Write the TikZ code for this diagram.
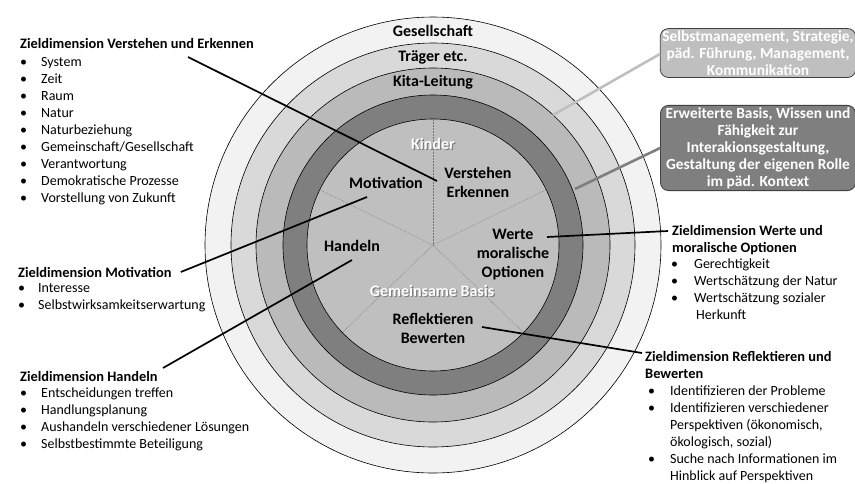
\documentclass[tikz,border=0pt]{standalone}
\usepackage{fontspec}
\setmainfont{Carlito}
\usepackage{xcolor}
\usetikzlibrary{positioning}
\definecolor{ringA}{HTML}{F2F2F2}
\definecolor{ringB}{HTML}{D9D9D9}
\definecolor{ringC}{HTML}{BABABA}
\definecolor{ringD}{HTML}{7F7F7F}
\definecolor{coreE}{HTML}{BFBFBF}
\newcommand{\bul}{\makebox[21pt][l]{\textbullet}}
\newcommand{\bulR}{\makebox[23pt][l]{\textbullet}}

\begin{document}
\begin{tikzpicture}[x=1pt,y=-1pt,font=\fontsize{14}{17}\selectfont,
    ring/.style={draw=black, line width=0.6pt},
    spoke/.style={densely dotted, black!55, line width=0.5pt},
    ringlbl/.style={font=\fontsize{16}{19}\selectfont\bfseries, align=center, inner sep=0pt},
    inlbl/.style={font=\fontsize{16}{19}\selectfont\bfseries, align=center, inner sep=0pt, text=white},
    shd/.style={font=\fontsize{16}{19}\selectfont\bfseries, align=center, inner sep=0pt, text=black!70, opacity=0.55},
    ttl/.style={font=\fontsize{14.4}{17}\selectfont\bfseries, align=left, inner sep=0pt},
    lst/.style={align=left, inner sep=0pt},
    lead/.style={line width=1.7pt, black},
    box/.style={draw=black!75, line width=0.8pt, rounded corners=8pt, align=center, text=white,
                font=\fontsize{15.4}{17}\selectfont\bfseries, minimum width=195pt, inner sep=2pt}]
  \useasboundingbox (0,0) rectangle (855,483);
  % ---- rings ----
  \coordinate (ctr) at (433,245);
  \draw[ring, fill=ringA] (ctr) circle[radius=228pt];
  \draw[ring, fill=ringB] (ctr) circle[radius=202pt];
  \draw[ring, fill=ringC] (ctr) circle[radius=177pt];
  \draw[ring, fill=ringD] (ctr) circle[radius=150pt];
  \draw[ring, fill=coreE] (ctr) circle[radius=126pt];
  \draw[spoke] (ctr) -- ++(90:126pt);
  \draw[spoke] (ctr) -- ++(26:126pt);
  \draw[spoke] (ctr) -- ++(154:126pt);
  \draw[spoke] (ctr) -- ++(224:126pt);
  \draw[spoke] (ctr) -- ++(316:126pt);
  \node[ringlbl] (gesell) at (433,31) {Gesellschaft};
  \node[ringlbl] (traeger) at (433,57) {Träger etc.};
  \node[ringlbl] (kita) at (433,82) {Kita-Leitung};
  % ---- core ----
  \node[shd] (kinderS) at (434.2,145.2) {Kinder};
  \node[inlbl] (kinder) at (433,144) {Kinder};
  \node[shd] (basisS) at (433.2,292.2) {Gemeinsame Basis};
  \node[inlbl] (basis) at (432,291) {Gemeinsame Basis};
  \node[ringlbl] (cVE) at (478,182) {Verstehen\\Erkennen};
  \node[ringlbl] (cMo) at (386,183) {Motivation};
  \node[ringlbl] (cHa) at (352,246) {Handeln};
  \node[ringlbl] (cWe) at (513,255) {Werte\\moralische\\Optionen};
  \node[ringlbl] (cRe) at (433,328) {Reflektieren\\Bewerten};
  % ---- boxes ----
  \node[box, fill=coreE] (bLead) at (758,53)
    {Selbstmanagement, Strategie,\\ päd. Führung, Management,\\ Kommunikation};
  \node[box, fill=ringD] (bBase) at (758,148)
    {Erweiterte Basis, Wissen und\\ Fähigkeit zur\\ Interakionsgestaltung,\\ Gestaltung der eigenen Rolle\\ im päd. Kontext};
  \coordinate (rKita) at (553,115);
  \coordinate (rDark) at (575,189);
  \draw[line width=2.6pt, coreE] (rKita) -- ([yshift=-1pt]bLead.west);
  \draw[line width=2.6pt, ringD] (rDark) -- (bBase.west);
  % ---- goal dimensions ----
  \node[ttl, anchor=base west] (tVE) at (20,48) {Zieldimension Verstehen und Erkennen};
  \node[lst, anchor=north west] (lVE) at (20,57)
    {\bul System\\ \bul Zeit\\ \bul Raum\\ \bul Natur\\ \bul Naturbeziehung\\
     \bul Gemeinschaft/Gesellschaft\\ \bul Verantwortung\\ \bul Demokratische Prozesse\\
     \bul Vorstellung von Zukunft};
  \node[ttl, anchor=base west] (tMo) at (18,277) {Zieldimension Motivation};
  \node[lst, anchor=north west] (lMo) at (18,283)
    {\makebox[20pt][l]{\textbullet}Interesse\\ \makebox[20pt][l]{\textbullet}Selbstwirksamkeitserwartung};
  \node[ttl, anchor=base west] (tHa) at (20,381) {Zieldimension Handeln};
  \node[lst, anchor=north west] (lHa) at (20,388)
    {\bul Entscheidungen treffen\\ \bul Handlungsplanung\\ \bul Aushandeln verschiedener Lösungen\\
     \bul Selbstbestimmte Beteiligung};
  \node[ttl, anchor=north west] (tWe) at (672,225) {Zieldimension Werte und\\ moralische Optionen};
  \node[lst, anchor=north west] (lWe) at (671,259)
    {\bulR Gerechtigkeit\\ \bulR Wertschätzung der Natur\\ \bulR Wertschätzung sozialer\\ \hspace*{25pt}Herkunft};
  \node[ttl, anchor=north west] (tRe) at (645,351) {Zieldimension Reflektieren und\\ Bewerten};
  \node[lst, anchor=north west] (lRe) at (648,386)
    {\makebox[22pt][l]{\textbullet}Identifizieren der Probleme\\
     \makebox[22pt][l]{\textbullet}Identifizieren verschiedener\\
     \hspace*{22pt}Perspektiven (ökonomisch,\\ \hspace*{22pt}ökologisch, sozial)\\
     \makebox[22pt][l]{\textbullet}Suche nach Informationen im\\ \hspace*{22pt}Hinblick auf Perspektiven};
  % ---- leaders ----
  \coordinate (sVE) at (188,57);
  \coordinate (sHa) at (163,368);
  \coordinate (sWe) at (668,231);
  \coordinate (sRe) at (642,353);
  \coordinate (eVE) at (437,181);
  \coordinate (eMo) at (367,197);
  \coordinate (eHa) at (352,260);
  \coordinate (eWe) at (547,237);
  \coordinate (eRe) at (482,327);
  \draw[lead] (sVE) -- (eVE);
  \draw[lead] ([xshift=9pt]tMo.east) -- (eMo);
  \draw[lead] (sHa) -- (eHa);
  \draw[lead] (sWe) -- (eWe);
  \draw[lead] (sRe) -- (eRe);
\end{tikzpicture}
\end{document}
